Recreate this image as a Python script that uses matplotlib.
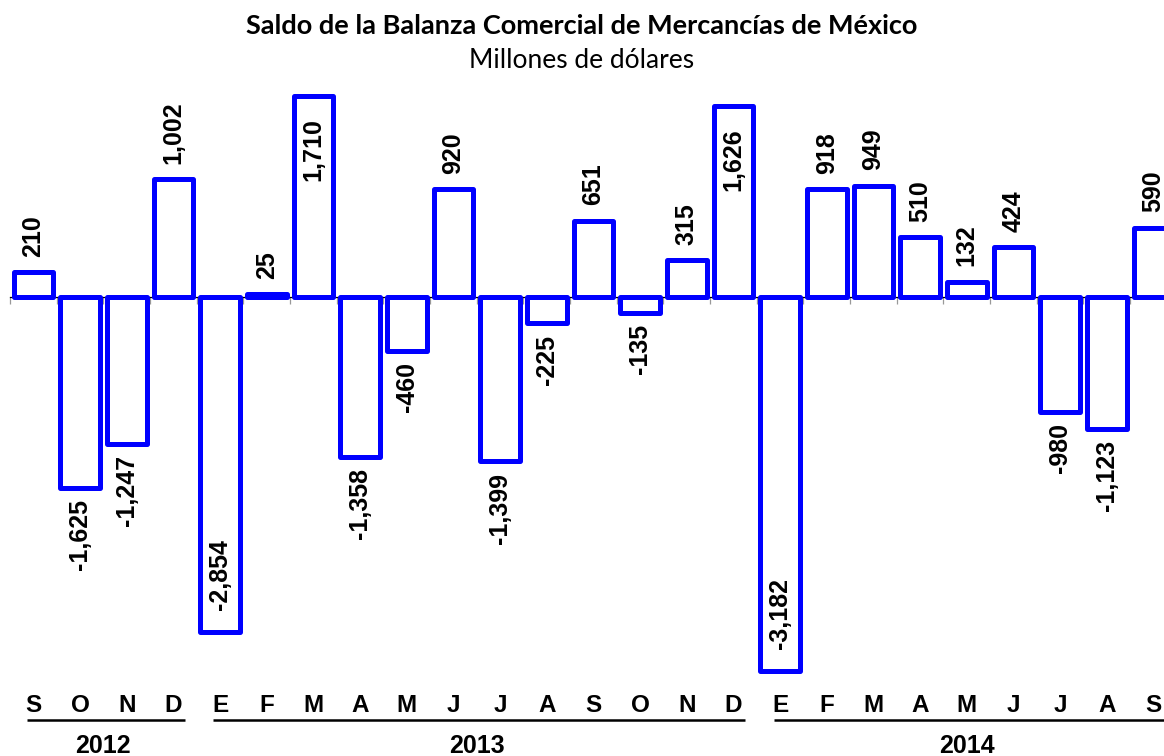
import numpy as np
import matplotlib
matplotlib.use("Agg")
import matplotlib.pyplot as plt
from matplotlib.transforms import blended_transform_factory

# Datos: saldo mensual, millones de dolares
months = ["S", "O", "N", "D",
          "E", "F", "M", "A", "M", "J", "J", "A", "S", "O", "N", "D",
          "E", "F", "M", "A", "M", "J", "J", "A", "S"]
values = [210, -1625, -1247, 1002,
          -2854, 25, 1710, -1358, -460, 920, -1399, -225, 651, -135, 315, 1626,
          -3182, 918, 949, 510, 132, 424, -980, -1123, 590]
years = ["2012", "2013", "2014"]
year_spans = [(0, 3), (4, 15), (16, 24)]

LABEL_FONT = "Liberation Sans"
TITLE_FONT = "Lato"

W, H = 1164, 756
fig = plt.figure(figsize=(W / 100, H / 100), dpi=100)

# axes slightly wider than the figure so the last bar gets cut off like the original
left_px, step_px = 10, 46.67
ax = fig.add_axes([left_px / W, 0.0787, step_px * 25 / W, 0.8237])

x = np.arange(len(values))
ax.bar(x, values, width=0.85, color="white", edgecolor="#0000FF",
       linewidth=3.6, joinstyle="round", zorder=3)

ax.set_xlim(-0.5, len(values) - 0.5)
ax.set_ylim(-3400, 1900)

for s in ["top", "right", "left"]:
    ax.spines[s].set_visible(False)
ax.spines["bottom"].set_position(("data", 0))
ax.spines["bottom"].set_linewidth(0.9)
ax.spines["bottom"].set_zorder(2)
ax.set_yticks([])
ax.set_xticks(np.arange(-0.5, len(values)))
ax.set_xticklabels([])
ax.tick_params(axis="x", length=5, width=0.9, color="#999999", direction="out")

# etiquetas de datos
lab_kw = dict(textcoords="offset points", rotation=90, ha="center",
              fontsize=18, fontweight="bold", family=LABEL_FONT, zorder=4)
for xi, v in zip(x, values):
    txt = f"{v:,}"
    if v > 1500:
        ax.annotate(txt, (xi, v), xytext=(0, -16), va="top", **lab_kw)
    elif v < -2500:
        ax.annotate(txt, (xi, v), xytext=(0, 16), va="bottom", **lab_kw)
    elif v >= 0:
        ax.annotate(txt, (xi, v), xytext=(0, 11), va="bottom", **lab_kw)
    else:
        ax.annotate(txt, (xi, v), xytext=(0, -8), va="top", **lab_kw)

# meses, lineas y anos debajo
tr = blended_transform_factory(ax.transData, fig.transFigure)
for xi, m in zip(x, months):
    ax.text(xi, 1 - 705 / H, m, transform=tr, ha="center", va="center",
            fontsize=17.5, fontweight="bold", family=LABEL_FONT, clip_on=False)

for (a, b), yr in zip(year_spans, years):
    ax.plot([a - 0.14, b + 0.25], [1 - 720 / H] * 2, transform=tr, color="black",
            lw=1.8, clip_on=False, solid_capstyle="butt")
    ax.text((a + b) / 2, 1 - 746 / H, yr, transform=tr, ha="center", va="center",
            fontsize=18, fontweight="bold", family=LABEL_FONT, clip_on=False)

fig.text(0.5, 1 - 26 / H, "Saldo de la Balanza Comercial de Mercancías de México",
         ha="center", va="center", fontsize=19.5, fontweight="bold", family=TITLE_FONT)
fig.text(0.5, 1 - 60 / H, "Millones de dólares", ha="center", va="center",
         fontsize=19, family=TITLE_FONT)

fig.savefig("out.png", dpi=100)
